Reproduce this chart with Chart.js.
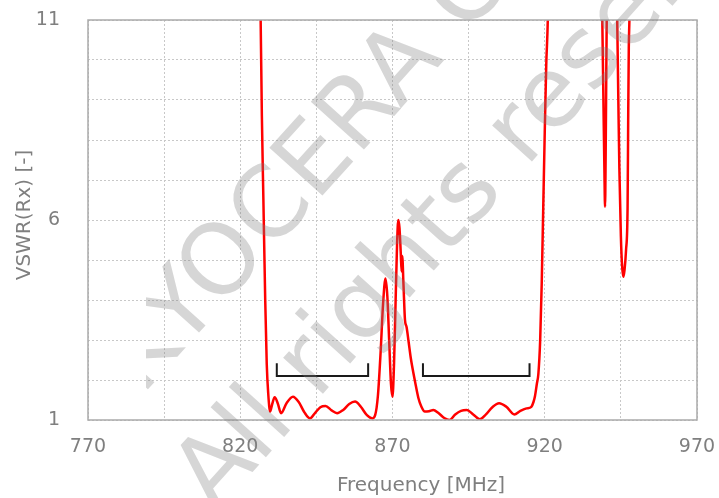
<!DOCTYPE html>
<html><head><meta charset="utf-8">
<script src="https://cdn.jsdelivr.net/npm/chart.js@4"></script>
<style>html,body{margin:0;padding:0;background:#fff}#wrap{width:719px;height:498px}</style>
</head><body><div id="wrap"><canvas id="c" width="719" height="498"></canvas></div>
<script>
const freqMHz = [826.3,826.7,827.1,827.6,828.2,828.7,829.2,829.8,830.5,831.3,832.3,833.4,835.2,837.3,839.2,841.0,842.9,844.6,846.3,848.0,850.0,851.8,853.8,855.8,857.7,859.6,861.6,863.4,864.3,865.2,866.1,866.9,867.7,868.3,868.9,869.5,870.0,870.5,871.0,871.5,871.9,872.3,872.7,873.0,873.2,873.6,874.1,874.6,875.3,876.0,876.8,877.6,878.5,879.5,880.6,882.0,883.4,885.0,887.0,888.7,890.6,892.5,894.4,896.5,898.7,900.7,902.8,905.0,907.4,910.0,912.0,914.0,915.6,916.3,916.8,917.4,917.9,918.5,919.0,919.5,920.0,920.5,921.0,921.3,938.5,938.9,939.3,939.6,939.8,940.0,940.2,940.35,940.6,943.5,943.8,944.2,944.5,945.0,945.4,945.8,946.2,946.7,947.2,947.4,947.6,947.8,948.1];
const vswr = [12.5,11,8.6,6.5,4.0,2.4,1.65,1.21,1.4,1.57,1.42,1.17,1.42,1.58,1.45,1.2,1.04,1.18,1.32,1.35,1.24,1.17,1.25,1.4,1.46,1.33,1.12,1.04,1.12,1.6,2.7,3.9,4.54,4.1,3.0,1.9,1.58,2.4,3.9,5.4,6.0,5.8,5.2,4.71,5.1,4.4,3.5,3.33,2.95,2.55,2.2,1.88,1.55,1.33,1.21,1.22,1.25,1.18,1.05,1.0,1.14,1.23,1.25,1.14,1.02,1.14,1.32,1.42,1.33,1.14,1.23,1.29,1.33,1.45,1.6,1.9,2.15,3.0,4.4,6.3,8.2,9.9,11,12.5,12.5,11,8.8,7.2,6.33,7.6,9.6,11,12.5,12.5,11,8.8,7.3,5.6,4.85,4.58,4.75,5.25,6.3,8.5,10.3,11,12.5];
const band1X = [832, 832, 862, 862];
const band2X = [880, 880, 915, 915];
const bracketY = [2.42, 2.1, 2.1, 2.42];
const xTickLabels = [770, 820, 870, 920, 970];
const yTickLabels = [1, 6, 11];
const xTitle = 'Frequency [MHz]';
const yTitle = 'VSWR(Rx) [-]';
const watermarkLines = ['KYOCERA Corporation', 'All rights reserved.'];

const FONT = 'DejaVu Sans';
const GRAY = '#7f7f7f';
const pts = (xs, ys) => xs.map((x, i) => ({x: x, y: ys[i]}));

const decor = {
  id: 'decor',
  beforeDraw(chart) {
    const ctx = chart.ctx;
    ctx.save(); ctx.fillStyle = '#fff'; ctx.fillRect(0, 0, chart.width, chart.height); ctx.restore();
  },
  afterDatasetsDraw(chart) {
    const ctx = chart.ctx, a = chart.chartArea;
    ctx.save();
    ctx.strokeStyle = '#aaaaaa'; ctx.lineWidth = 1.5;
    ctx.strokeRect(a.left, a.top, a.right - a.left, a.bottom - a.top);
    ctx.restore();
    // watermark
    ctx.save();
    ctx.beginPath(); ctx.rect(146, 0, chart.width - 146, chart.height); ctx.clip();
    ctx.rotate(-48 * Math.PI / 180);
    ctx.fillStyle = 'rgba(128,128,128,0.32)';
    ctx.font = '98px "' + FONT + '"';
    ctx.textAlign = 'left'; ctx.textBaseline = 'middle';
    ctx.fillText(watermarkLines[0], -200, 345);
    ctx.fillText(watermarkLines[1], -238, 478);
    ctx.restore();
  },
  afterDraw(chart) {
    const ctx = chart.ctx;
    ctx.save();
    ctx.fillStyle = GRAY; ctx.font = '20px "' + FONT + '"';
    ctx.textAlign = 'center'; ctx.textBaseline = 'middle';
    ctx.fillText(xTitle, 421, 486);
    ctx.translate(25, 215); ctx.rotate(-Math.PI / 2);
    ctx.fillText(yTitle, 0, 0);
    ctx.restore();
  }
};

new Chart(document.getElementById('c'), {
  type: 'line',
  data: {
    datasets: [
      {data: pts(freqMHz, vswr), borderColor: '#ff0000', borderWidth: 2.5, pointRadius: 0, cubicInterpolationMode: 'monotone', fill: false},
      {data: pts(band1X, bracketY), borderColor: '#1a1a1a', borderWidth: 2, pointRadius: 0, tension: 0, fill: false},
      {data: pts(band2X, bracketY), borderColor: '#1a1a1a', borderWidth: 2, pointRadius: 0, tension: 0, fill: false}
    ]
  },
  options: {
    responsive: false, animation: false, devicePixelRatio: 1,
    layout: {padding: {left: 0, right: 22, top: 20, bottom: 0}},
    plugins: {legend: {display: false}, tooltip: {enabled: false}},
    scales: {
      x: {
        type: 'linear', min: 770, max: 970,
        afterFit: s => { s.height = 78; s.paddingLeft = 0; s.paddingRight = 0; },
        ticks: {stepSize: 25, autoSkip: false, maxRotation: 0, padding: 16, color: GRAY,
          font: {family: FONT, size: 19},
          callback: v => xTickLabels.includes(v) ? String(v) : ''},
        grid: {color: '#c8c8c8', drawTicks: false, lineWidth: 1},
        border: {display: false, dash: [2, 2]}
      },
      y: {
        type: 'linear', min: 1, max: 11,
        afterFit: s => { s.width = 88; s.paddingTop = 0; s.paddingBottom = 0; },
        ticks: {stepSize: 1, autoSkip: false, padding: 28, color: GRAY,
          font: {family: FONT, size: 19},
          callback: v => yTickLabels.includes(v) ? String(v) : ''},
        grid: {color: '#c8c8c8', drawTicks: false, lineWidth: 1},
        border: {display: false, dash: [2, 2]}
      }
    }
  },
  plugins: [decor]
});
</script>
</body></html>
